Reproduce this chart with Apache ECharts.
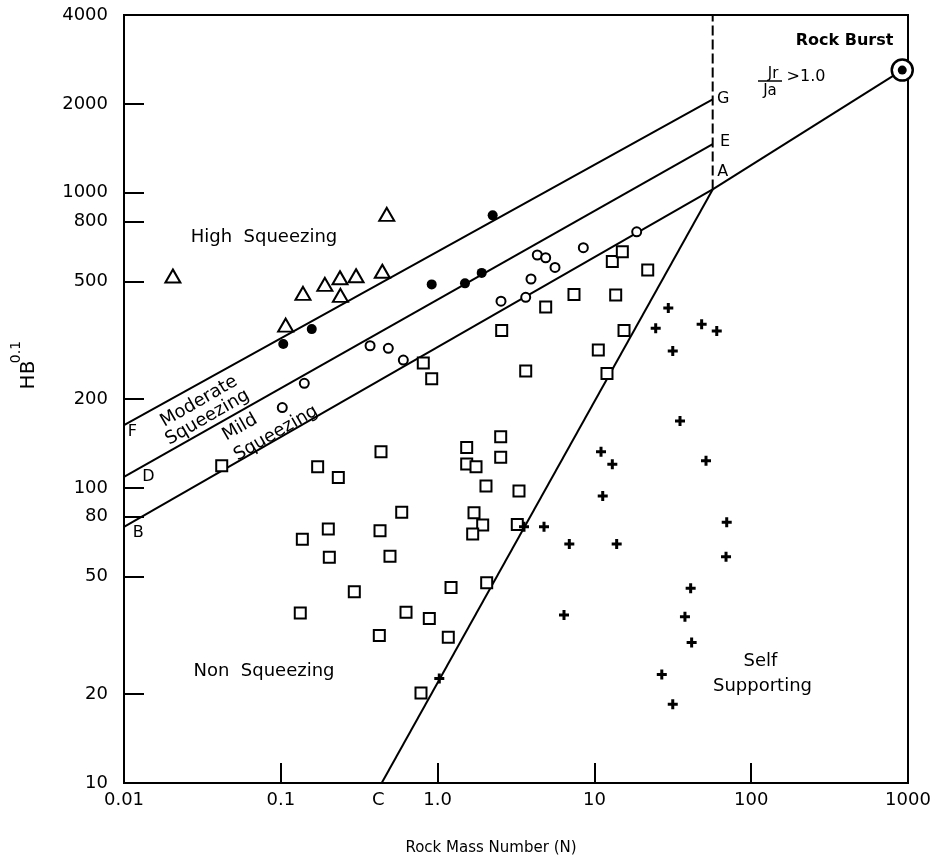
<!DOCTYPE html>
<html>
<head>
<meta charset="utf-8">
<script src="https://cdn.jsdelivr.net/npm/echarts@6/dist/echarts.min.js"></script>
<style>
html, body { margin: 0; padding: 0; background: #fff; }
#chart { width: 935px; height: 860px; }
</style>
</head>
<body>
<div id="chart"></div>
<script>
// axis ticks
const xTicks = [0.01, 0.1, 1, 10, 100, 1000]
const yTicks = [10, 20, 50, 80, 100, 200, 500, 800, 1000, 2000, 4000]

// points: [rock mass number N, HB^0.1]
const highSqueezing = [
  [0.0205, 522], [0.474, 844], [0.1385, 456], [0.191, 489], [0.2385, 515],
  [0.302, 523], [0.444, 542], [0.240, 449], [0.1074, 356],
]
const moderateSqueezing = [
  [0.1037, 307], [0.1575, 345], [0.917, 489], [1.495, 493], [1.911, 535], [2.245, 838],
]
const mildSqueezing = [
  [0.371, 303], [0.485, 297], [0.6045, 271], [0.1412, 226], [0.1022, 187],
  [2.537, 429], [3.647, 442], [3.941, 510], [4.323, 615], [4.89, 602],
  [5.607, 558], [8.50, 651], [18.61, 737],
]
const nonSqueezing = [
  [0.8105, 265], [0.917, 234], [2.563, 341], [4.89, 410], [7.41, 452],
  [3.647, 249], [13.67, 450], [13.01, 585], [15.07, 631], [21.88, 547],
  [15.45, 341], [10.59, 293], [12.03, 244], [2.526, 149], [0.042, 118.9],
  [0.4355, 132.6], [0.1718, 117.9], [0.2327, 108.5], [0.5904, 82.6], [0.2009, 72.5],
  [0.4293, 71.6], [0.1372, 66.9], [0.2039, 58.2], [0.497, 58.7], [0.2943, 44.5],
  [1.218, 46.0], [0.1331, 37.7], [0.6289, 37.9], [0.8854, 36.1], [0.4249, 31.6],
  [1.170, 31.2], [0.7837, 20.2], [1.533, 137], [2.526, 126.9], [1.533, 120.4],
  [1.758, 117.9], [2.035, 101.4], [3.304, 97.5], [1.707, 82.3], [1.939, 74.8],
  [3.223, 75.2], [1.674, 69.8], [2.056, 47.7],
]
const selfSupporting = [
  [1.025, 22.6], [3.556, 73.8], [4.771, 73.8], [6.918, 64.5], [13.87, 64.5],
  [6.399, 37.1], [11.02, 132.6], [13.01, 120.1], [11.3, 93.8], [35.15, 168.4],
  [51.5, 123.5], [69.8, 76.4], [69.1, 58.4], [41.1, 45.7], [37.8, 36.6],
  [41.7, 29.9], [26.9, 23.3], [31.6, 18.5], [29.6, 407], [24.6, 347],
  [48.3, 358], [60.3, 340], [31.6, 291],
]
const rockBurst = [[919, 2602]]

// boundary lines
const lineFG = [[0.01, 163], [56.8, 2070]]
const lineDE = [[0.01, 109], [56.8, 1461]]
const lineBA = [[0.01, 73.8], [56.8, 1026]]
const lineCA = [[0.44, 10], [56.8, 1026]]
const lineAR = [[56.8, 1026], [919, 2602]]
const lineDash = [[56.8, 1026], [56.8, 4000]]

const FONT = 'DejaVu Sans'

function txt(text, x, y, size, extra) {
  return Object.assign({
    type: 'text',
    x: x,
    y: y,
    silent: true,
    style: {
      text: text,
      font: (extra && extra.weight ? extra.weight + ' ' : '') + size + 'px "' + FONT + '"',
      fill: '#000',
      align: 'center',
      verticalAlign: 'middle',
      textAlign: 'center',
      textVerticalAlign: 'middle',
    },
  }, extra && extra.rotation !== undefined ? { rotation: extra.rotation } : {})
}

function lineSeries(data, type) {
  return {
    type: 'line',
    data: data,
    symbol: 'none',
    silent: true,
    z: 1,
    lineStyle: { color: '#000', opacity: 1, width: 2, type: type === 'dashed' ? [10, 4] : 'solid' },
  }
}

const openStyle = { color: '#fff', borderColor: '#000', borderWidth: 2, opacity: 1 }
const solidStyle = { color: '#000', opacity: 1 }
const rot = Math.PI / 6

const chart = echarts.init(document.getElementById('chart'))
const option = {
  animation: false,
  backgroundColor: '#fff',
  grid: {
    left: 124, right: 27, top: 15, bottom: 77,
    show: true, borderColor: '#000', borderWidth: 2,
  },
  xAxis: {
    type: 'log',
    logBase: 10,
    min: 0.01,
    max: 1000,
    axisLine: { lineStyle: { color: '#000', width: 2 } },
    axisTick: { inside: true, length: 20, customValues: xTicks, lineStyle: { color: '#000', width: 2 } },
    axisLabel: {
      customValues: xTicks,
      color: '#000',
      fontSize: 18,
      fontFamily: FONT,
      margin: 8,
      formatter: (v) => (v === 1 ? '1.0' : String(v)),
    },
    splitLine: { show: false },
    minorTick: { show: false },
  },
  yAxis: {
    type: 'log',
    logBase: 10,
    min: 10,
    max: 4000,
    axisLine: { lineStyle: { color: '#000', width: 2 } },
    axisTick: { inside: true, length: 20, customValues: yTicks, lineStyle: { color: '#000', width: 2 } },
    axisLabel: {
      customValues: yTicks,
      color: '#000',
      fontSize: 18,
      fontFamily: FONT,
      margin: 16,
      formatter: (v) => String(v),
    },
    splitLine: { show: false },
    minorTick: { show: false },
  },
  series: [
    lineSeries(lineFG),
    lineSeries(lineDE),
    lineSeries(lineBA),
    lineSeries(lineCA),
    lineSeries(lineAR),
    lineSeries(lineDash, 'dashed'),
    {
      name: 'High Squeezing',
      type: 'scatter',
      data: highSqueezing,
      symbol: 'triangle',
      symbolSize: [15, 13],
      itemStyle: openStyle,
      silent: true,
      z: 3,
    },
    {
      name: 'Moderate Squeezing',
      type: 'scatter',
      data: moderateSqueezing,
      symbol: 'circle',
      symbolSize: 10,
      itemStyle: solidStyle,
      silent: true,
      z: 3,
    },
    {
      name: 'Mild Squeezing',
      type: 'scatter',
      data: mildSqueezing,
      symbol: 'circle',
      symbolSize: 9,
      itemStyle: openStyle,
      silent: true,
      z: 3,
    },
    {
      name: 'Non Squeezing',
      type: 'scatter',
      data: nonSqueezing,
      symbol: 'rect',
      symbolSize: 11,
      itemStyle: openStyle,
      silent: true,
      z: 3,
    },
    {
      name: 'Self Supporting',
      type: 'scatter',
      data: selfSupporting,
      symbol: 'path://M3.5,0H6.5V3.5H10V6.5H6.5V10H3.5V6.5H0V3.5H3.5Z',
      symbolSize: 10,
      itemStyle: solidStyle,
      silent: true,
      z: 3,
    },
    {
      name: 'Rock Burst',
      type: 'scatter',
      data: rockBurst,
      symbol: 'circle',
      symbolSize: 21,
      itemStyle: { color: '#fff', borderColor: '#000', borderWidth: 2.5, opacity: 1 },
      silent: true,
      z: 4,
    },
    {
      type: 'scatter',
      data: rockBurst,
      symbol: 'circle',
      symbolSize: 9,
      itemStyle: solidStyle,
      silent: true,
      z: 5,
    },
  ],
  graphic: [
    // axis names
    txt('Rock Mass Number (N)', 491, 848, 15),
    txt('HB', 28.5, 375, 20, { rotation: Math.PI / 2 }),
    txt('0.1', 16.5, 352, 14, { rotation: Math.PI / 2 }),
    // zone labels
    txt('High  Squeezing', 264, 237, 18),
    txt('Non  Squeezing', 264, 671, 18),
    txt('Self', 760.5, 661, 18),
    txt('Supporting', 762.5, 686, 18),
    txt('Rock Burst', 844.5, 41, 16, { weight: 'bold' }),
    txt('Moderate', 199, 401.5, 18, { rotation: rot }),
    txt('Squeezing', 207.5, 417.5, 18, { rotation: rot }),
    txt('Mild', 240, 427.5, 18, { rotation: rot }),
    txt('Squeezing', 276, 433.3, 18, { rotation: rot }),
    // Jr / Ja > 1.0
    txt('Jr', 773, 74, 15),
    {
      type: 'line',
      silent: true,
      shape: { x1: 758, y1: 81, x2: 782, y2: 81 },
      style: { stroke: '#000', lineWidth: 1.5 },
    },
    txt('Ja', 770, 91, 15),
    txt('>1.0', 806, 77, 16),
    // line end letters
    txt('G', 723.3, 99.3, 16),
    txt('E', 725, 141.7, 16),
    txt('A', 722.7, 171.7, 16),
    txt('F', 132.3, 431.7, 16),
    txt('D', 148.3, 477.3, 16),
    txt('B', 138.3, 532.7, 16),
    txt('C', 378.3, 800, 18),
  ],
}
chart.setOption(option)
</script>
</body>
</html>
